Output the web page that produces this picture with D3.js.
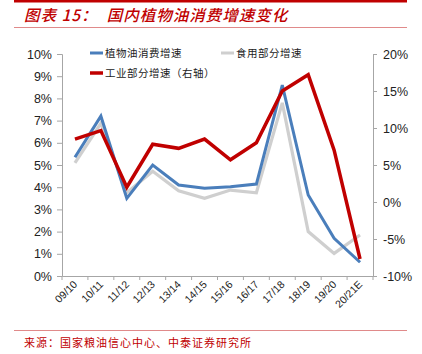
<!DOCTYPE html>
<html><head><meta charset="utf-8">
<script src="https://cdn.jsdelivr.net/npm/d3@7"></script>
<style>
html,body{margin:0;padding:0;background:#fff;}
svg{display:block;}
</style>
</head><body>
<svg id="c" width="422" height="354"></svg>
<script>
const categories = ["09/10","10/11","11/12","12/13","13/14","14/15","15/16","16/17","17/18","18/19","19/20","20/21E"];
const totalGrowth = [5.35,7.2,3.5,5.0,4.1,3.95,4.02,4.14,8.6,3.65,1.7,0.62];
const foodGrowth = [5.1,6.88,3.75,4.72,3.84,3.5,3.87,3.75,7.8,2.0,1.02,1.85];
const industrialGrowth = [8.5,9.65,2.0,7.8,7.25,8.5,5.7,8.0,15.0,17.2,7.0,-7.7];
const leftTicks = [0,1,2,3,4,5,6,7,8,9,10];
const rightTicks = [-10,-5,0,5,10,15,20];
const seriesNames = ["植物油消费增速","食用部分增速","工业部分增速（右轴）"];
const titleText = "图表 15：  国内植物油消费增速变化";
const sourceText = "来源：国家粮油信心中心、中泰证券研究所";

const svg = d3.select("#c");
const L = 62, R = 373, T = 54, B = 276;
const x = d3.scaleBand().domain(categories).range([L, R]);
const yL = d3.scaleLinear().domain([0, 10]).range([B, T]);
const yR = d3.scaleLinear().domain([-10, 20]).range([B, T]);
const axisColor = "#a6a6a6";
const cjk = "'Noto Sans CJK SC', sans-serif";
const latin = "'Liberation Sans', Arial, sans-serif";

// header
svg.append("rect").attr("x",14).attr("y",0).attr("width",393).attr("height",2.5).attr("fill","#c00000");
svg.append("text").attr("x",24).attr("y",21).attr("font-family",cjk).attr("font-size",15.5)
  .attr("font-weight",500).attr("font-style","italic").attr("fill","#c00000")
  .attr("letter-spacing",1.0).attr("xml:space","preserve").style("white-space","pre").text(titleText);
svg.append("line").attr("x1",14).attr("x2",407).attr("y1",27.5).attr("y2",27.5).attr("stroke","#e08a8a").attr("stroke-width",1);
// footer
svg.append("line").attr("x1",14).attr("x2",407).attr("y1",330.5).attr("y2",330.5).attr("stroke","#e08a8a").attr("stroke-width",1);
svg.append("text").attr("x",24).attr("y",347).attr("font-family",cjk).attr("font-size",11)
  .attr("fill","#c00000").attr("letter-spacing",1.0).text(sourceText);

// axes
const gL = svg.append("g").attr("transform",`translate(${L},0)`)
  .call(d3.axisLeft(yL).tickValues(leftTicks).tickFormat(d=>d+"%").tickSize(5).tickPadding(5));
const gR = svg.append("g").attr("transform",`translate(${R},0)`)
  .call(d3.axisRight(yR).tickValues(rightTicks).tickFormat(d=>d+"%").tickSize(4).tickPadding(6));
const gX = svg.append("g").attr("transform",`translate(0,${B})`)
  .call(d3.axisBottom(x).tickSize(0).tickFormat(""));
[gL,gR,gX].forEach(g=>{
  g.select(".domain").attr("stroke",axisColor);
  g.selectAll(".tick line").attr("stroke",axisColor);
  g.selectAll("text").attr("font-family",latin).attr("font-size",12.5).attr("fill","#222");
});
// category boundary ticks
const bounds = categories.map(c=>x(c)).concat([R]);
gX.selectAll(".btick").data(bounds).join("line").attr("class","btick")
  .attr("x1",d=>d).attr("x2",d=>d).attr("y1",0).attr("y2",4).attr("stroke",axisColor);
// rotated labels
gX.selectAll(".clab").data(categories).join("text").attr("class","clab")
  .attr("transform",d=>`translate(${x(d)+x.bandwidth()/2+3},${9}) rotate(-45)`)
  .attr("text-anchor","end").attr("font-family",latin).attr("font-size",10.5).attr("fill","#222")
  .text(d=>d);

// lines
const cx = d => x(d) + x.bandwidth()/2;
const lineL = d3.line().x((d,i)=>cx(categories[i])).y(d=>yL(d));
const lineR = d3.line().x((d,i)=>cx(categories[i])).y(d=>yR(d));
svg.append("path").datum(foodGrowth).attr("d",lineL).attr("fill","none").attr("stroke","#cfcfcf").attr("stroke-width",3.2).attr("stroke-linejoin","miter");
svg.append("path").datum(totalGrowth).attr("d",lineL).attr("fill","none").attr("stroke","#4a7ebb").attr("stroke-width",3).attr("stroke-linejoin","miter");
svg.append("path").datum(industrialGrowth).attr("d",lineR).attr("fill","none").attr("stroke","#c00000").attr("stroke-width",3.5).attr("stroke-linejoin","miter");

// legend
const legend = [
  {name:seriesNames[0], color:"#4a7ebb", x:90, y:53},
  {name:seriesNames[1], color:"#cfcfcf", x:221, y:53},
  {name:seriesNames[2], color:"#c00000", x:90, y:73}
];
const lg = svg.append("g");
legend.forEach(l=>{
  lg.append("line").attr("x1",l.x).attr("x2",l.x+13).attr("y1",l.y).attr("y2",l.y)
    .attr("stroke",l.color).attr("stroke-width",l.color==="#c00000"?3.5:3);
  lg.append("text").attr("x",l.x+15).attr("y",l.y+3.8).attr("font-family",cjk).attr("font-size",10.5)
    .attr("fill","#222").attr("letter-spacing",0.5).text(l.name);
});
</script>
</body></html>
